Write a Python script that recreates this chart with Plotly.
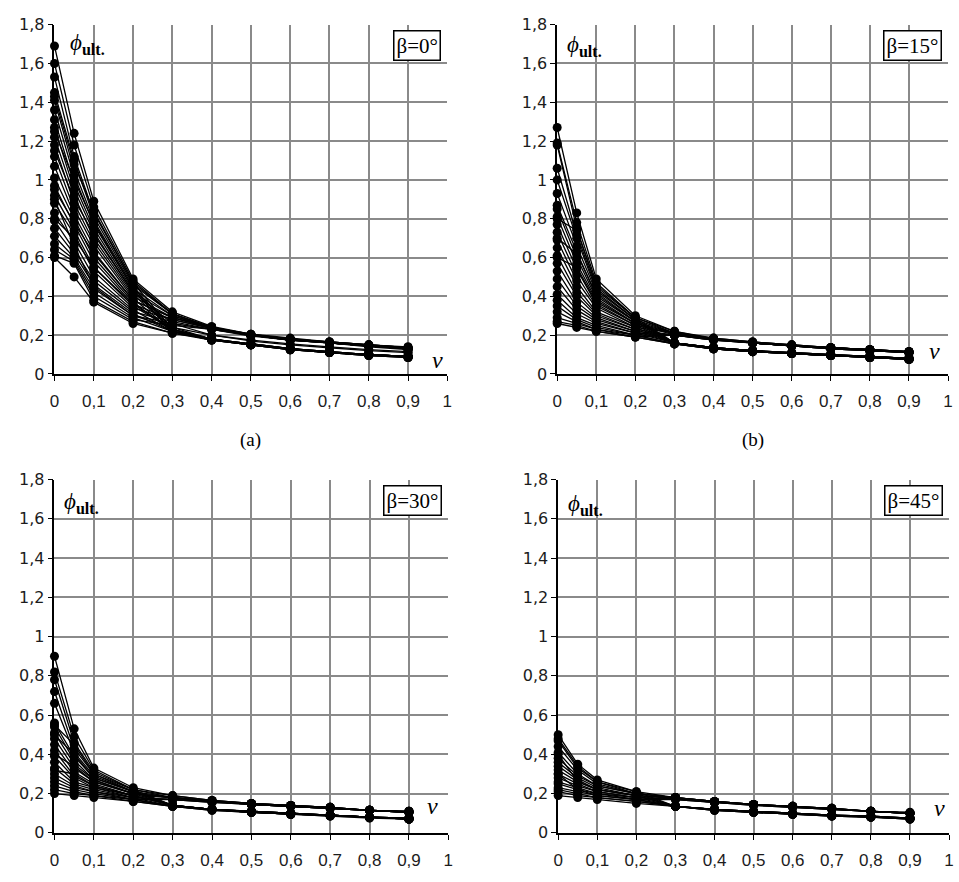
import plotly.graph_objects as go

# ---------------- data ----------------
NU = [0, 0.05, 0.1, 0.2, 0.3, 0.4, 0.5, 0.6, 0.7, 0.8, 0.9]
PANEL_LABELS = ["(a)", "(b)", "", ""]
BETA_LABELS = ["β=0°", "β=15°", "β=30°", "β=45°"]

# beta = 0
CURVES_A = [
    [1.69, 1.24, 0.89, 0.49, 0.32, 0.245, 0.205, 0.185, 0.165, 0.150, 0.140],
    [1.60, 1.18, 0.86, 0.48, 0.31, 0.240, 0.200, 0.180, 0.160, 0.145, 0.135],
    [1.53, 1.12, 0.83, 0.47, 0.23, 0.180, 0.155, 0.130, 0.115, 0.100, 0.090],
    [1.45, 1.10, 0.81, 0.46, 0.31, 0.240, 0.200, 0.180, 0.160, 0.145, 0.130],
    [1.41, 1.05, 0.79, 0.45, 0.22, 0.180, 0.150, 0.130, 0.110, 0.100, 0.090],
    [1.36, 1.02, 0.77, 0.44, 0.30, 0.235, 0.200, 0.175, 0.160, 0.145, 0.130],
    [1.31, 0.98, 0.75, 0.43, 0.22, 0.175, 0.150, 0.125, 0.110, 0.100, 0.085],
    [1.27, 0.95, 0.73, 0.42, 0.30, 0.240, 0.205, 0.180, 0.165, 0.150, 0.135],
    [1.22, 0.92, 0.70, 0.41, 0.23, 0.180, 0.155, 0.130, 0.115, 0.100, 0.090],
    [1.18, 0.88, 0.68, 0.40, 0.29, 0.235, 0.200, 0.180, 0.160, 0.145, 0.130],
    [1.12, 0.85, 0.66, 0.39, 0.22, 0.180, 0.150, 0.130, 0.110, 0.100, 0.090],
    [1.07, 0.82, 0.63, 0.38, 0.29, 0.240, 0.200, 0.180, 0.165, 0.150, 0.135],
    [1.01, 0.80, 0.60, 0.37, 0.22, 0.175, 0.150, 0.125, 0.110, 0.095, 0.085],
    [0.97, 0.77, 0.58, 0.36, 0.28, 0.235, 0.200, 0.180, 0.160, 0.145, 0.130],
    [0.92, 0.74, 0.55, 0.35, 0.23, 0.180, 0.155, 0.130, 0.115, 0.100, 0.090],
    [0.88, 0.72, 0.53, 0.34, 0.28, 0.235, 0.200, 0.175, 0.160, 0.145, 0.130],
    [0.83, 0.68, 0.50, 0.33, 0.22, 0.180, 0.150, 0.130, 0.110, 0.100, 0.090],
    [0.79, 0.64, 0.48, 0.32, 0.27, 0.230, 0.200, 0.175, 0.160, 0.145, 0.130],
    [0.75, 0.62, 0.46, 0.31, 0.22, 0.175, 0.150, 0.125, 0.110, 0.095, 0.085],
    [0.71, 0.60, 0.44, 0.30, 0.26, 0.230, 0.200, 0.175, 0.160, 0.145, 0.130],
    [0.67, 0.59, 0.42, 0.29, 0.22, 0.180, 0.150, 0.130, 0.110, 0.100, 0.090],
    [0.64, 0.58, 0.40, 0.28, 0.25, 0.230, 0.195, 0.175, 0.160, 0.140, 0.125],
    [0.61, 0.57, 0.38, 0.27, 0.21, 0.175, 0.150, 0.125, 0.110, 0.095, 0.085],
    [0.60, 0.50, 0.37, 0.26, 0.21, 0.180, 0.150, 0.130, 0.110, 0.100, 0.090],
    [1.43, 1.08, 0.84, 0.47, 0.31, 0.240, 0.205, 0.180, 0.165, 0.150, 0.135],
    [1.25, 1.00, 0.78, 0.44, 0.24, 0.180, 0.155, 0.130, 0.115, 0.100, 0.090],
    [0.95, 0.78, 0.62, 0.38, 0.29, 0.240, 0.200, 0.180, 0.160, 0.145, 0.130],
    [0.80, 0.70, 0.55, 0.36, 0.23, 0.180, 0.150, 0.130, 0.110, 0.100, 0.090],
    [1.15, 0.90, 0.72, 0.42, 0.26, 0.200, 0.170, 0.150, 0.135, 0.120, 0.110],
    [0.90, 0.66, 0.45, 0.30, 0.24, 0.200, 0.175, 0.155, 0.140, 0.125, 0.115],
]

# beta = 15
CURVES_B = [
    [1.27, 0.83, 0.49, 0.30, 0.22, 0.185, 0.165, 0.150, 0.135, 0.125, 0.115],
    [1.19, 0.78, 0.47, 0.29, 0.16, 0.135, 0.120, 0.110, 0.100, 0.090, 0.080],
    [1.18, 0.75, 0.45, 0.29, 0.22, 0.180, 0.165, 0.150, 0.135, 0.125, 0.115],
    [1.06, 0.72, 0.44, 0.28, 0.16, 0.135, 0.120, 0.105, 0.095, 0.090, 0.080],
    [1.00, 0.70, 0.43, 0.28, 0.21, 0.180, 0.160, 0.145, 0.135, 0.125, 0.110],
    [0.93, 0.66, 0.42, 0.27, 0.16, 0.130, 0.115, 0.105, 0.095, 0.085, 0.075],
    [0.87, 0.63, 0.40, 0.27, 0.21, 0.185, 0.165, 0.150, 0.135, 0.125, 0.115],
    [0.85, 0.60, 0.39, 0.26, 0.16, 0.135, 0.120, 0.110, 0.100, 0.090, 0.080],
    [0.81, 0.57, 0.38, 0.26, 0.21, 0.180, 0.160, 0.145, 0.135, 0.120, 0.110],
    [0.77, 0.54, 0.36, 0.25, 0.16, 0.135, 0.120, 0.105, 0.095, 0.090, 0.080],
    [0.73, 0.51, 0.35, 0.25, 0.21, 0.180, 0.160, 0.145, 0.135, 0.125, 0.115],
    [0.69, 0.48, 0.34, 0.24, 0.16, 0.130, 0.115, 0.105, 0.095, 0.085, 0.075],
    [0.65, 0.45, 0.32, 0.24, 0.21, 0.180, 0.160, 0.145, 0.130, 0.120, 0.110],
    [0.61, 0.42, 0.31, 0.23, 0.16, 0.135, 0.120, 0.110, 0.100, 0.090, 0.080],
    [0.57, 0.40, 0.30, 0.23, 0.20, 0.180, 0.160, 0.145, 0.135, 0.125, 0.110],
    [0.53, 0.37, 0.29, 0.22, 0.16, 0.135, 0.120, 0.105, 0.095, 0.090, 0.080],
    [0.49, 0.35, 0.28, 0.22, 0.20, 0.175, 0.160, 0.145, 0.130, 0.120, 0.110],
    [0.45, 0.33, 0.27, 0.21, 0.16, 0.130, 0.115, 0.105, 0.095, 0.085, 0.075],
    [0.41, 0.31, 0.26, 0.21, 0.20, 0.180, 0.160, 0.145, 0.135, 0.125, 0.115],
    [0.38, 0.29, 0.25, 0.20, 0.155, 0.130, 0.115, 0.105, 0.095, 0.085, 0.075],
    [0.35, 0.28, 0.24, 0.20, 0.20, 0.175, 0.160, 0.145, 0.130, 0.120, 0.110],
    [0.32, 0.27, 0.23, 0.20, 0.155, 0.130, 0.115, 0.105, 0.095, 0.085, 0.075],
    [0.29, 0.26, 0.23, 0.19, 0.20, 0.175, 0.160, 0.145, 0.130, 0.120, 0.110],
    [0.27, 0.25, 0.22, 0.19, 0.155, 0.130, 0.115, 0.105, 0.095, 0.085, 0.075],
    [0.26, 0.24, 0.22, 0.19, 0.155, 0.130, 0.115, 0.105, 0.095, 0.085, 0.075],
    [0.80, 0.74, 0.46, 0.29, 0.21, 0.180, 0.160, 0.145, 0.135, 0.125, 0.115],
    [0.70, 0.62, 0.41, 0.27, 0.16, 0.135, 0.120, 0.110, 0.100, 0.090, 0.080],
    [0.60, 0.55, 0.37, 0.26, 0.20, 0.180, 0.160, 0.145, 0.135, 0.125, 0.110],
]

# beta = 30
CURVES_C = [
    [0.90, 0.53, 0.33, 0.23, 0.19, 0.165, 0.150, 0.140, 0.130, 0.115, 0.110],
    [0.82, 0.49, 0.32, 0.22, 0.14, 0.120, 0.110, 0.100, 0.090, 0.080, 0.075],
    [0.78, 0.46, 0.31, 0.22, 0.19, 0.165, 0.150, 0.140, 0.130, 0.115, 0.110],
    [0.72, 0.43, 0.30, 0.21, 0.14, 0.120, 0.105, 0.095, 0.090, 0.080, 0.070],
    [0.66, 0.41, 0.29, 0.21, 0.18, 0.160, 0.145, 0.135, 0.125, 0.115, 0.105],
    [0.56, 0.39, 0.28, 0.21, 0.14, 0.120, 0.110, 0.100, 0.090, 0.080, 0.075],
    [0.54, 0.37, 0.27, 0.20, 0.18, 0.160, 0.150, 0.140, 0.130, 0.115, 0.105],
    [0.51, 0.35, 0.27, 0.20, 0.14, 0.120, 0.105, 0.095, 0.090, 0.080, 0.070],
    [0.48, 0.33, 0.26, 0.20, 0.18, 0.160, 0.145, 0.135, 0.125, 0.115, 0.105],
    [0.45, 0.31, 0.25, 0.19, 0.14, 0.120, 0.110, 0.100, 0.090, 0.080, 0.075],
    [0.42, 0.29, 0.24, 0.19, 0.18, 0.160, 0.150, 0.140, 0.130, 0.115, 0.110],
    [0.39, 0.28, 0.23, 0.19, 0.14, 0.120, 0.105, 0.095, 0.090, 0.080, 0.070],
    [0.36, 0.26, 0.23, 0.18, 0.17, 0.160, 0.145, 0.135, 0.125, 0.115, 0.105],
    [0.33, 0.25, 0.22, 0.18, 0.135, 0.120, 0.110, 0.100, 0.090, 0.080, 0.075],
    [0.30, 0.24, 0.21, 0.18, 0.17, 0.155, 0.145, 0.135, 0.125, 0.115, 0.105],
    [0.28, 0.23, 0.21, 0.17, 0.135, 0.120, 0.105, 0.095, 0.090, 0.080, 0.070],
    [0.26, 0.22, 0.20, 0.17, 0.17, 0.155, 0.145, 0.135, 0.125, 0.115, 0.105],
    [0.24, 0.21, 0.19, 0.17, 0.135, 0.115, 0.105, 0.095, 0.085, 0.080, 0.070],
    [0.22, 0.20, 0.19, 0.16, 0.135, 0.120, 0.110, 0.100, 0.090, 0.080, 0.075],
    [0.20, 0.19, 0.18, 0.16, 0.135, 0.115, 0.105, 0.095, 0.085, 0.075, 0.070],
    [0.55, 0.45, 0.30, 0.22, 0.18, 0.165, 0.150, 0.140, 0.130, 0.115, 0.110],
    [0.50, 0.40, 0.28, 0.21, 0.14, 0.120, 0.110, 0.100, 0.090, 0.080, 0.075],
    [0.40, 0.34, 0.26, 0.20, 0.18, 0.160, 0.145, 0.135, 0.125, 0.115, 0.105],
    [0.32, 0.30, 0.24, 0.19, 0.14, 0.120, 0.105, 0.095, 0.090, 0.080, 0.070],
]

# beta = 45
CURVES_D = [
    [0.50, 0.35, 0.27, 0.21, 0.18, 0.160, 0.145, 0.135, 0.125, 0.110, 0.100],
    [0.47, 0.33, 0.26, 0.21, 0.135, 0.120, 0.110, 0.100, 0.090, 0.085, 0.075],
    [0.44, 0.32, 0.25, 0.20, 0.18, 0.160, 0.145, 0.135, 0.125, 0.110, 0.100],
    [0.41, 0.30, 0.24, 0.20, 0.135, 0.120, 0.105, 0.095, 0.090, 0.080, 0.075],
    [0.38, 0.29, 0.24, 0.20, 0.18, 0.160, 0.145, 0.135, 0.125, 0.110, 0.105],
    [0.36, 0.28, 0.23, 0.19, 0.135, 0.120, 0.110, 0.100, 0.090, 0.085, 0.075],
    [0.34, 0.27, 0.22, 0.19, 0.175, 0.155, 0.145, 0.135, 0.120, 0.110, 0.100],
    [0.32, 0.26, 0.22, 0.19, 0.135, 0.120, 0.105, 0.095, 0.090, 0.080, 0.075],
    [0.30, 0.25, 0.21, 0.18, 0.175, 0.155, 0.145, 0.130, 0.120, 0.110, 0.100],
    [0.28, 0.24, 0.21, 0.18, 0.135, 0.115, 0.105, 0.095, 0.085, 0.080, 0.070],
    [0.26, 0.23, 0.20, 0.18, 0.17, 0.155, 0.140, 0.130, 0.120, 0.110, 0.100],
    [0.25, 0.22, 0.20, 0.17, 0.135, 0.120, 0.110, 0.100, 0.090, 0.085, 0.075],
    [0.23, 0.21, 0.19, 0.17, 0.17, 0.155, 0.140, 0.130, 0.120, 0.110, 0.100],
    [0.22, 0.20, 0.18, 0.16, 0.135, 0.115, 0.105, 0.095, 0.085, 0.080, 0.070],
    [0.21, 0.19, 0.18, 0.16, 0.135, 0.120, 0.110, 0.100, 0.090, 0.080, 0.075],
    [0.19, 0.18, 0.17, 0.15, 0.135, 0.115, 0.105, 0.095, 0.085, 0.080, 0.070],
    [0.48, 0.34, 0.26, 0.20, 0.18, 0.160, 0.145, 0.135, 0.125, 0.110, 0.100],
    [0.40, 0.26, 0.22, 0.19, 0.18, 0.160, 0.145, 0.135, 0.125, 0.110, 0.100],
    [0.30, 0.22, 0.19, 0.17, 0.135, 0.120, 0.110, 0.100, 0.090, 0.085, 0.075],
]

PANELS = [CURVES_A, CURVES_B, CURVES_C, CURVES_D]

# ---------------- layout helpers ----------------
W, H = 959, 882
# plot-area pixel boxes (left, right, top, bottom)
BOXES = [(50, 447, 16, 373), (558, 953, 16, 373), (50, 448, 481, 842), (559, 954, 481, 842)]

fig = go.Figure()

for i, curves in enumerate(PANELS):
    sfx = "" if i == 0 else str(i + 1)
    for c in curves:
        fig.add_trace(go.Scatter(
            x=NU, y=c, mode="lines+markers",
            line=dict(color="black", width=1.3),
            marker=dict(color="black", size=9, symbol="circle"),
            xaxis="x" + sfx, yaxis="y" + sfx,
            showlegend=False, cliponaxis=False, hoverinfo="skip",
        ))

x_font = dict(family="Arial", size=17, color="#1c1c1c")
y_font = dict(family="DejaVu Sans", size=16, color="#1c1c1c")
for i, (l, r, t, b) in enumerate(BOXES):
    sfx = "" if i == 0 else str(i + 1)
    xd = [l / W, r / W]
    yd = [1 - b / H, 1 - t / H]
    fig.update_layout(**{
        "xaxis" + sfx: dict(
            domain=xd, anchor="y" + sfx, range=[0, 1], dtick=0.1, tick0=0,
            showgrid=True, gridcolor="#8a8a8a", gridwidth=1.5,
            showline=True, linecolor="black", linewidth=1.5,
            ticks="outside", ticklen=5, tickcolor="black", tickwidth=1.2,
            zeroline=False, tickfont=x_font, ticklabelstandoff=6,
            layer="below traces", fixedrange=True,
        ),
        "yaxis" + sfx: dict(
            domain=yd, anchor="x" + sfx, range=[0, 1.8], dtick=0.2, tick0=0,
            showgrid=True, gridcolor="#8a8a8a", gridwidth=1.5,
            showline=True, linecolor="black", linewidth=1.5,
            ticks="outside", ticklen=5, tickcolor="black", tickwidth=1.2,
            zeroline=False, tickfont=y_font,
            layer="below traces", fixedrange=True,
        ),
    })

annotations = []
serif = "Liberation Serif"
PHI_POS = [(0.035, 1.70), (0.02, 1.69), (0.02, 1.68), (0.02, 1.67)]
NU_POS = [(0.975, 0.07), (0.965, 0.12), (0.96, 0.135), (0.975, 0.125)]
for i, (l, r, t, b) in enumerate(BOXES):
    sfx = "" if i == 0 else str(i + 1)
    annotations.append(dict(
        x=PHI_POS[i][0], y=PHI_POS[i][1], xref="x" + sfx, yref="y" + sfx,
        text="<i>ϕ</i><sub><b>ult.</b></sub>", showarrow=False,
        xanchor="left", yanchor="middle",
        font=dict(family=serif, size=23, color="black"),
    ))
    annotations.append(dict(
        x=0.985, y=0.985, xref="x" + sfx + " domain", yref="y" + sfx + " domain",
        text=BETA_LABELS[i], showarrow=False, xanchor="right", yanchor="top",
        font=dict(family=serif, size=21, color="black"),
        bgcolor="white", bordercolor="black", borderwidth=1.5, borderpad=2,
    ))
    annotations.append(dict(
        x=NU_POS[i][0], y=NU_POS[i][1], xref="x" + sfx, yref="y" + sfx,
        text="<i>ν</i>", showarrow=False, xanchor="center", yanchor="middle",
        font=dict(family=serif, size=24, color="black"),
    ))
    if PANEL_LABELS[i]:
        annotations.append(dict(
            x=(l + r) / 2 / W, y=1 - 440 / H, xref="paper", yref="paper",
            text=PANEL_LABELS[i], showarrow=False, xanchor="center", yanchor="middle",
            font=dict(family=serif, size=19, color="black"),
        ))

fig.update_layout(
    width=W, height=H, margin=dict(l=0, r=0, t=0, b=0),
    paper_bgcolor="white", plot_bgcolor="white",
    separators=", ", annotations=annotations, showlegend=False,
)

fig.write_html("out.html")
